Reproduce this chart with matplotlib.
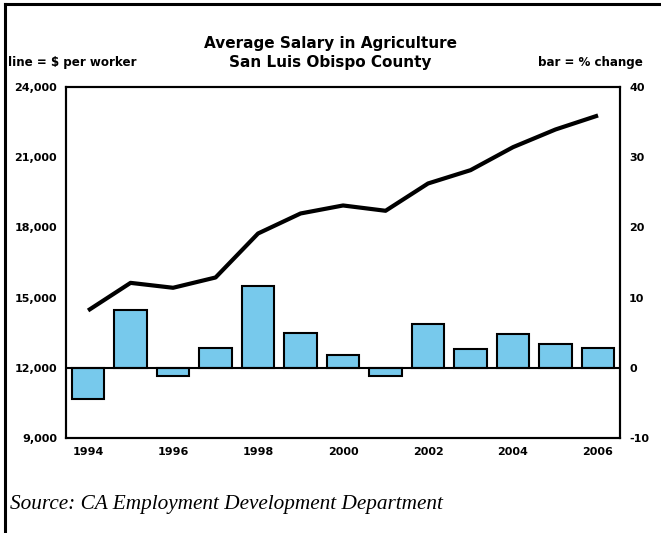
import matplotlib.pyplot as plt
from matplotlib.lines import Line2D

# data
years = [1994, 1995, 1996, 1997, 1998, 1999, 2000, 2001, 2002, 2003, 2004, 2005, 2006]
salary = [14450, 15630, 15420, 15860, 17740, 18595, 18937, 18710, 19877, 20446, 21429, 22185, 22783]
pct_change = [-4.4, 8.2, -1.2, 2.85, 11.7, 4.9, 1.85, -1.2, 6.3, 2.75, 4.8, 3.4, 2.85]
left_ticks = [9000, 12000, 15000, 18000, 21000, 24000]
right_ticks = [-10, 0, 10, 20, 30, 40]
year_ticks = [1994, 1996, 1998, 2000, 2002, 2004, 2006]

plt.rcParams['font.family'] = ['DejaVu Sans']

fig = plt.figure(figsize=(6.61, 5.33), dpi=100)
ax = fig.add_axes([0.0998, 0.1782, 0.8384, 0.6586])
ax2 = ax.twinx()

# bars: % change (right axis)
ax2.bar(years, pct_change, width=0.765, color='#77C9EC', edgecolor='black', linewidth=1.5, zorder=2)
ax2.axhline(0, color='black', linewidth=1.5, zorder=3)
ax2.set_ylim(-10, 40)
ax2.set_yticks(right_ticks)
ax2.set_yticklabels([str(t) for t in right_ticks], fontweight='bold', fontsize=8)

# line: $ per worker (left axis)
ax.set_zorder(ax2.get_zorder() + 1)
ax.patch.set_visible(False)
ax.plot(years, salary, color='black', linewidth=3, solid_capstyle='butt', zorder=4)
ax.set_ylim(9000, 24000)
ax.set_yticks(left_ticks)
ax.set_yticklabels([f'{t:,}' for t in left_ticks], fontweight='bold', fontsize=8)
ax.set_xlim(1993.48, 2006.52)
ax.set_xticks(year_ticks)
ax.set_xticklabels([str(y) for y in year_ticks], fontweight='bold', fontsize=8)

for a in (ax, ax2):
    a.tick_params(length=0, pad=6.5)
    for s in a.spines.values():
        s.set_linewidth(1.5)

fig.text(0.5, 0.9094, 'Average Salary in Agriculture', ha='center', va='baseline',
         fontsize=11, fontweight='bold')
fig.text(0.5, 0.8749, 'San Luis Obispo County', ha='center', va='baseline',
         fontsize=11, fontweight='bold')
fig.text(0.012, 0.877, 'line = $ per worker', ha='left', va='baseline', fontsize=8.6, fontweight='bold')
fig.text(0.972, 0.877, 'bar = % change', ha='right', va='baseline', fontsize=8.6, fontweight='bold')
fig.text(0.015, 0.045, 'Source: CA Employment Development Department', ha='left', va='baseline',
         fontsize=15.3, style='italic', family='Liberation Serif')

# frame on the top and left edges only
fig.add_artist(Line2D([0.007, 0.007], [0, 0.993], transform=fig.transFigure, color='black', linewidth=2.2))
fig.add_artist(Line2D([0.007, 1], [0.993, 0.993], transform=fig.transFigure, color='black', linewidth=2.2))

fig.savefig('out.png', dpi=100)
